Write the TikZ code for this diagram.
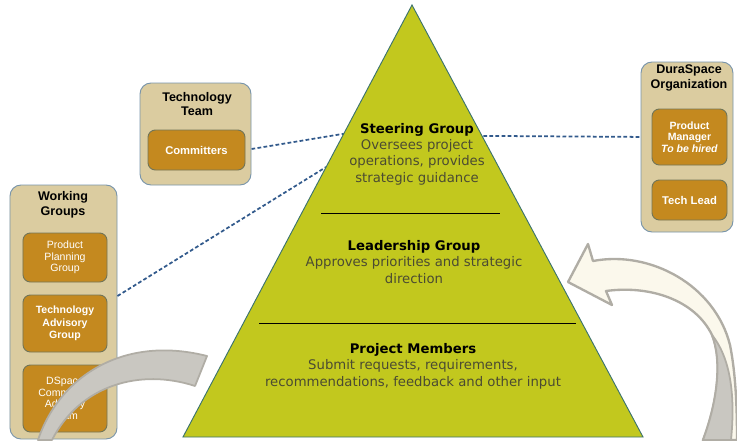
\documentclass[tikz,border=0pt]{standalone}
\usepackage{fontspec}
\setmainfont{Liberation Sans}
\newfontfamily\pyrfont{DejaVu Sans}
\usepackage{tikz}
\usetikzlibrary{positioning}
\usetikzlibrary{calc}
\usetikzlibrary{backgrounds}

\definecolor{pyrgreen}{RGB}{194,200,30}
\definecolor{pyredge}{RGB}{60,115,110}
\definecolor{tiertext}{RGB}{75,75,50}
\definecolor{boxtan}{RGB}{219,204,160}
\definecolor{boxedge}{RGB}{120,148,170}
\definecolor{innergold}{RGB}{196,137,31}
\definecolor{inneredge}{RGB}{115,118,88}
\definecolor{linkblue}{RGB}{50,90,140}
\definecolor{arrowcream}{RGB}{251,248,236}
\definecolor{arrowgray}{RGB}{201,199,193}
\definecolor{arrowedge}{RGB}{176,173,165}

\begin{document}
\begin{tikzpicture}[x=0.03cm, y=-0.03cm]
    \useasboundingbox (0,0) rectangle (737,440);
    % styles for the group boxes
    \tikzstyle{outerbox} = [draw=boxedge, fill=boxtan, rounded corners=0.33cm, line width=0.8pt]
    \tikzstyle{innerbox} = [draw=inneredge, fill=innergold, rounded corners=0.22cm, line width=0.8pt,
        text=white, align=center, font=\fontsize{9}{10}\selectfont]
    \tikzstyle{boxtitle} = [align=center, font=\bfseries\fontsize{10.7}{12.7}\selectfont]
    \tikzstyle{link} = [draw=linkblue, line width=1.5pt, dash pattern=on 3.2pt off 2pt]
    \tikzstyle{tier} = [align=center, text=tiertext, font=\pyrfont\fontsize{11.3}{14}\selectfont]

    % pyramid corners
    \coordinate (apex) at (412,5);
    \coordinate (bl) at (183,437);
    \coordinate (br) at (643,437);
    \coordinate (tL) at ($(apex)!0.298!(bl)$);
    \coordinate (tW) at ($(apex)!0.375!(bl)$);
    \coordinate (tR) at ($(apex)!0.303!(br)$);

    % Technology Team
    \node (tt) [outerbox, minimum width=3.33cm, minimum height=3.06cm] at (195.5,134) {};
    \node (ttT) [boxtitle] at (197,104) {Technology\\Team};
    \node (com) [innerbox, minimum width=2.91cm, minimum height=1.2cm, font=\bfseries\fontsize{9.6}{11}\selectfont] at (196.5,150) {Committers};

    % DuraSpace Organization
    \node (ds) [outerbox, minimum width=2.76cm, minimum height=5.1cm] at (687,147) {};
    \node (dsT) [boxtitle] at (689,78) {DuraSpace\\Organization};
    \node (pm) [innerbox, minimum width=2.25cm, minimum height=1.68cm, font=\bfseries\fontsize{9}{10}\selectfont] at (689.5,137) {Product\\Manager\\\textit{To be hired}};
    \node (tl) [innerbox, minimum width=2.25cm, minimum height=1.2cm, font=\bfseries\fontsize{9.6}{11}\selectfont] at (689.5,200) {Tech Lead};

    % Working Groups
    \node (wg) [outerbox, minimum width=3.21cm, minimum height=7.62cm] at (63.5,312) {};
    \node (wgT) [boxtitle] at (63,205) {Working\\Groups};
    \node (ppg) [innerbox, minimum width=2.52cm, minimum height=1.47cm] at (65,257.5) {Product\\Planning\\Group};
    \node (tag) [innerbox, minimum width=2.52cm, minimum height=1.71cm, font=\bfseries\fontsize{9}{10.5}\selectfont] at (65,323.5) {Technology\\Advisory\\Group};
    \node (dcat) [innerbox, minimum width=2.52cm, minimum height=2.01cm] at (65,398.5) {DSpace\\Community\\Advisory\\Team};

    % dashed links to the steering group
    \begin{scope}[on background layer]
        \draw[link] (com.east) -- (tL);
        \draw[link] (pm.west) -- (tR);
    \end{scope}
    \draw[link] ($(wg.east)+(0,-16)$) -- (tW);

    % the pyramid
    \draw[fill=pyrgreen, draw=pyredge, line width=0.8pt] (apex) -- (br) -- (bl) -- cycle;
    \draw[line width=0.8pt] (321,213) -- (500,213);
    \draw[line width=0.8pt] (259,323) -- (576,323);

    \node (steer) [tier] at (417,154) {{\bfseries\color{black}Steering Group}\\Oversees project\\operations, provides\\strategic guidance};
    \node (lead) [tier] at (414,262) {{\bfseries\color{black}Leadership Group}\\Approves priorities and strategic\\direction};
    \node (memb) [tier] at (413,366) {{\bfseries\color{black}Project Members}\\Submit requests, requirements,\\recommendations, feedback and other input};

    % curved arrow on the right
    \draw[fill=arrowcream, draw=arrowedge, line width=2pt, line join=round]
        (568,282) -- (588,244) -- (593,261)
        .. controls (650,250) and (715,285) .. (730,345)
        .. controls (736,375) and (737,410) .. (737,440)
        -- (703,440)
        .. controls (718,400) and (722,360) .. (712,335)
        .. controls (695,300) and (650,285) .. (606,291)
        -- (612,305) -- cycle;
    \draw[fill=arrowgray, draw=arrowedge, line width=1.5pt]
        (712,335) .. controls (732,360) and (735,400) .. (731,440)
        -- (703,440) .. controls (718,400) and (722,360) .. (712,335);

    % curved arrow on the left
    \draw[fill=arrowgray, draw=arrowedge, line width=1.5pt, line join=round]
        (38,440) .. controls (60,375) and (125,335) .. (207,356)
        -- (195,386)
        .. controls (140,368) and (80,385) .. (52,440) -- cycle;
\end{tikzpicture}
\end{document}
